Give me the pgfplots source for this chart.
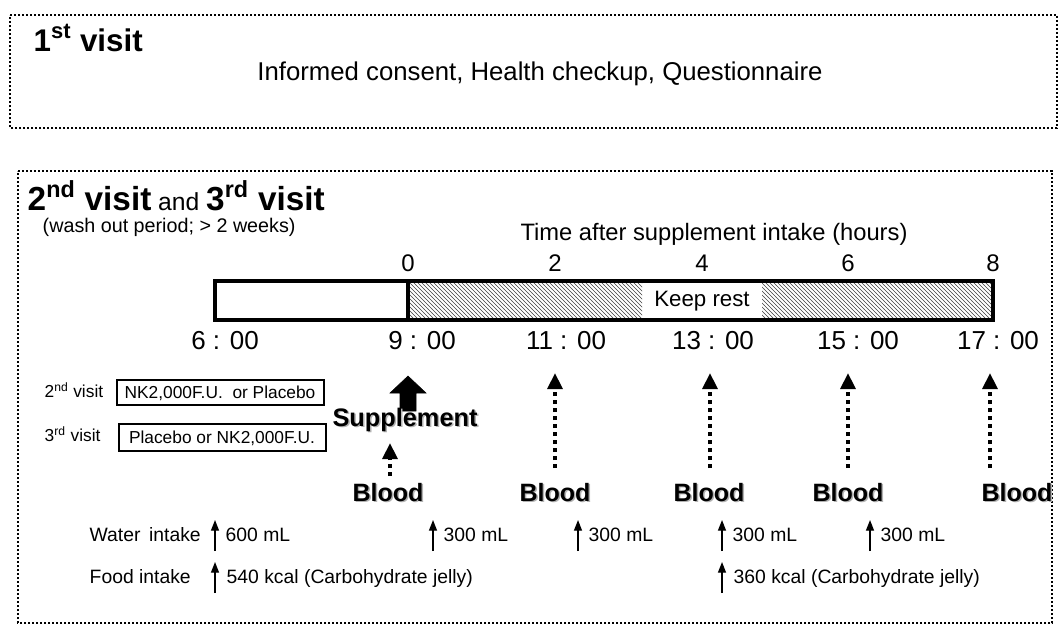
\documentclass[border=0pt]{standalone}
\usepackage{pgfplots}
\pgfplotsset{compat=1.18}
\usepackage{fontspec}
\setmainfont{Liberation Sans}
\usetikzlibrary{patterns,arrows.meta}
\begin{document}
\begin{tikzpicture}
\begin{axis}[scale only axis, width=797.25pt, height=471.75pt,
  xmin=0, xmax=1063, ymin=0, ymax=629, y dir=reverse, hide axis, clip=false,
  every node/.append style={inner sep=0pt},
  dotbox/.style={line width=2.2pt, dash pattern=on 1.6pt off 1.4pt, black},
  dotarrow/.style={line width=3pt, dash pattern=on 3pt off 3pt, -{Triangle[length=12pt,width=11pt]}, black},
  thinarrow/.style={line width=1pt, -{Triangle[length=8pt,width=6pt]}, black}]
\path[fill=white] (axis cs:0,0) rectangle (axis cs:1063,629);
% boxes
\addplot[dotbox] coordinates {(10,15)(1057,15)(1057,128)(10,128)} -- cycle;
\addplot[dotbox] coordinates {(18,171)(1052,171)(1052,623)(18,623)} -- cycle;
% visit 1
\node[anchor=base west] at (axis cs:29,51) {\fontsize{23.5pt}{25pt}\selectfont\bfseries 1\textsuperscript{st} visit};
\node[anchor=base] at (axis cs:540,80) {\fontsize{19.3pt}{21pt}\selectfont Informed consent, Health checkup, Questionnaire};
% visit 2/3
\node[anchor=base west] at (axis cs:23,210) {\fontsize{25pt}{27pt}\selectfont\bfseries 2\textsuperscript{nd} visit\mdseries\fontsize{18.5pt}{20pt}\selectfont{} and \fontsize{25pt}{27pt}\selectfont\bfseries 3\textsuperscript{rd} visit};
\node[anchor=base west] at (axis cs:38,232) {\fontsize{14.8pt}{16pt}\selectfont (wash out period; > 2 weeks)};
\node[anchor=base] at (axis cs:714,240) {\fontsize{17.8pt}{19pt}\selectfont Time after supplement intake (hours)};
% hour numbers
\node[anchor=base] at (axis cs:408,271) {\fontsize{18pt}{20pt}\selectfont 0};
\node[anchor=base] at (axis cs:555,271) {\fontsize{18pt}{20pt}\selectfont 2};
\node[anchor=base] at (axis cs:702,271) {\fontsize{18pt}{20pt}\selectfont 4};
\node[anchor=base] at (axis cs:848,271) {\fontsize{18pt}{20pt}\selectfont 6};
\node[anchor=base] at (axis cs:993,271) {\fontsize{18pt}{20pt}\selectfont 8};
% bar
\addplot[draw=none, pattern=north west lines, pattern color=black!75] coordinates {(408,281)(642,281)(642,320)(408,320)} -- cycle;
\addplot[draw=none, pattern=north west lines, pattern color=black!75] coordinates {(762,281)(993,281)(993,320)(762,320)} -- cycle;
\addplot[line width=2.4pt, black] coordinates {(215,281)(993,281)(993,320)(215,320)} -- cycle;
\addplot[line width=2.4pt, black] coordinates {(408,281)(408,320)};
\node at (axis cs:702,301) {\fontsize{16.7pt}{18pt}\selectfont Keep rest};
% clock times
\node[anchor=base] at (axis cs:225,349) {\fontsize{19.5pt}{21pt}\selectfont 6 : 00};
\node[anchor=base] at (axis cs:422,349) {\fontsize{19.5pt}{21pt}\selectfont 9 : 00};
\node[anchor=base] at (axis cs:566,349) {\fontsize{19.5pt}{21pt}\selectfont 11 : 00};
\node[anchor=base] at (axis cs:713,349) {\fontsize{19.5pt}{21pt}\selectfont 13 : 00};
\node[anchor=base] at (axis cs:858,349) {\fontsize{19.5pt}{21pt}\selectfont 15 : 00};
\node[anchor=base] at (axis cs:998,349) {\fontsize{19.5pt}{21pt}\selectfont 17 : 00};
% visit boxes
\node[anchor=base west] at (axis cs:40,397) {\fontsize{13pt}{15pt}\selectfont 2\textsuperscript{nd} visit};
\node[anchor=base west] at (axis cs:40,441) {\fontsize{13pt}{15pt}\selectfont 3\textsuperscript{rd} visit};
\addplot[line width=0.9pt, black] coordinates {(117,380)(324,380)(324,405)(117,405)} -- cycle;
\addplot[line width=0.9pt, black] coordinates {(119,424)(326,424)(326,451)(119,451)} -- cycle;
\node at (axis cs:220,393) {\fontsize{13pt}{15pt}\selectfont NK2,000F.U.\ \ or Placebo};
\node at (axis cs:222,438) {\fontsize{13pt}{15pt}\selectfont Placebo or NK2,000F.U.};
% supplement arrow
\addplot[fill=black, draw=black] coordinates {(408,376)(426,393)(416,393)(416,411)(400,411)(400,393)(390,393)} -- cycle;
\node[anchor=base, text=black!30] at (axis cs:406.5,427.5) {\fontsize{19pt}{21pt}\selectfont\bfseries Supplement};
\node[anchor=base] at (axis cs:405,426) {\fontsize{19pt}{21pt}\selectfont\bfseries Supplement};
% dotted arrows
\addplot[dotarrow] coordinates {(390,476)(390,443)};
\addplot[dotarrow] coordinates {(555,468)(555,373)};
\addplot[dotarrow] coordinates {(710,468)(710,373)};
\addplot[dotarrow] coordinates {(848,468)(848,373)};
\addplot[dotarrow] coordinates {(990,468)(990,373)};
% Blood
\foreach \bx in {388,555,709,848,1017}{
  \edef\tmp{\noexpand\node[anchor=base, text=black!30] at (axis cs:\bx+1.5,502.5) {\noexpand\fontsize{18.8pt}{20pt}\noexpand\selectfont\noexpand\bfseries Blood};
  \noexpand\node[anchor=base] at (axis cs:\bx,501) {\noexpand\fontsize{18.8pt}{20pt}\noexpand\selectfont\noexpand\bfseries Blood};}
  \tmp
}
% water intake
\node[anchor=base west] at (axis cs:85,541) {\fontsize{14.5pt}{16pt}\selectfont Water\, intake};
\addplot[thinarrow] coordinates {(215,551)(215,520)};
\addplot[thinarrow] coordinates {(433,551)(433,520)};
\addplot[thinarrow] coordinates {(578,551)(578,520)};
\addplot[thinarrow] coordinates {(722,551)(722,520)};
\addplot[thinarrow] coordinates {(870,551)(870,520)};
\node[anchor=base west] at (axis cs:221,541) {\fontsize{14.5pt}{16pt}\selectfont 600 mL};
\node[anchor=base west] at (axis cs:439,541) {\fontsize{14.5pt}{16pt}\selectfont 300 mL};
\node[anchor=base west] at (axis cs:584,541) {\fontsize{14.5pt}{16pt}\selectfont 300 mL};
\node[anchor=base west] at (axis cs:728,541) {\fontsize{14.5pt}{16pt}\selectfont 300 mL};
\node[anchor=base west] at (axis cs:876,541) {\fontsize{14.5pt}{16pt}\selectfont 300 mL};
% food intake
\node[anchor=base west] at (axis cs:85,583) {\fontsize{14.5pt}{16pt}\selectfont Food intake};
\addplot[thinarrow] coordinates {(215,593)(215,562)};
\addplot[thinarrow] coordinates {(722,593)(722,562)};
\node[anchor=base west] at (axis cs:222,583) {\fontsize{14.5pt}{16pt}\selectfont 540 kcal (Carbohydrate jelly)};
\node[anchor=base west] at (axis cs:729,583) {\fontsize{14.5pt}{16pt}\selectfont 360 kcal (Carbohydrate jelly)};
\end{axis}
\end{tikzpicture}
\end{document}
